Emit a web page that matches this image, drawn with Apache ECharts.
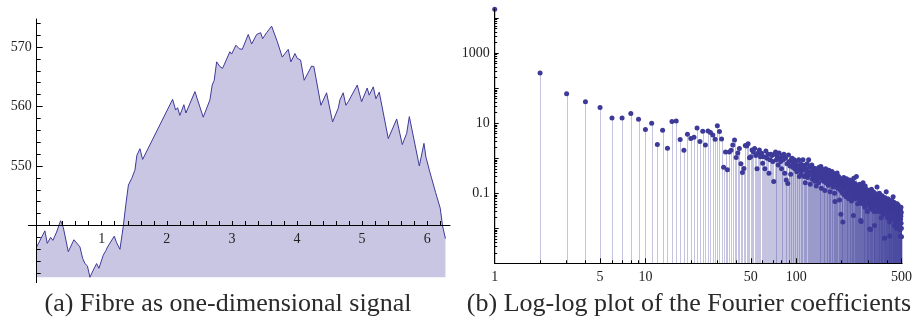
<!DOCTYPE html>
<html>
<head>
<meta charset="utf-8">
<script src="https://cdn.jsdelivr.net/npm/echarts@6/dist/echarts.min.js"></script>
<style>
html, body { margin: 0; padding: 0; background: #fff; }
#chart { width: 915px; height: 322px; }
</style>
</head>
<body>
<div id="chart"></div>
<script>
// (a) fibre signal, [t, value]
const signal = [
	[0, 536.4], [0.127, 539.1], [0.163, 537.0], [0.215, 538.0], [0.25, 537.5], [0.307, 538.9],
	[0.368, 540.8], [0.409, 539.7], [0.486, 535.6], [0.573, 537.6], [0.604, 537.2], [0.665, 536.4],
	[0.706, 534.5], [0.742, 533.6], [0.78, 533.2], [0.819, 531.3], [0.87, 532.5], [0.922, 533.6],
	[0.957, 532.8], [1.023, 535.0], [1.065, 535.8], [1.09, 536.4], [1.192, 538.2], [1.229, 537.1],
	[1.28, 536.0], [1.33, 539.8], [1.37, 543.5], [1.41, 546.8], [1.46, 547.9], [1.51, 549.3],
	[1.54, 551.8], [1.587, 552.9], [1.628, 551.1], [2.089, 561.2], [2.135, 559.4], [2.166, 559.8],
	[2.2, 558.5], [2.262, 560.3], [2.293, 558.9], [2.432, 562.5], [2.467, 561.3], [2.559, 558.2],
	[2.662, 561.1], [2.697, 563.6], [2.728, 564.4], [2.765, 567.5], [2.815, 566.7], [2.856, 566.4],
	[2.969, 569.2], [2.995, 568.8], [3.061, 570.3], [3.113, 569.7], [3.159, 569.6], [3.251, 572.1],
	[3.303, 570.5], [3.38, 572.1], [3.441, 572.4], [3.472, 571.4], [3.533, 572.4], [3.61, 573.5],
	[3.635, 573.4], [3.697, 570.9], [3.773, 568.3], [3.799, 568.1], [3.865, 569.6], [3.906, 567.5],
	[3.968, 568.9], [4.003, 568.1], [4.055, 567.8], [4.11, 564.4], [4.224, 566.8], [4.259, 566.7],
	[4.367, 560.2], [4.454, 562.3], [4.546, 557.4], [4.633, 559.7], [4.659, 561.1], [4.709, 562.3],
	[4.751, 560.2], [4.787, 560.8], [4.925, 563.6], [4.992, 560.8], [5.078, 563.1], [5.109, 561.9],
	[5.171, 563.3], [5.212, 561.3], [5.263, 562.4], [5.402, 554.6], [5.531, 557.9], [5.617, 553.6],
	[5.685, 555.5], [5.725, 558.3], [5.879, 550.0], [5.95, 553.8], [5.98, 551.5], [6.04, 549.0],
	[6.13, 545.5], [6.2, 542.9], [6.236, 539.9], [6.28, 537.8]
];

// (b) |Fourier coefficient| for n = 1..500
const coefs = [
	18000, 270, 69, 41, 28, 14, 14, 19, 13, 6.6,
	10, 2.45, 6.3, 1.93, 11.1, 11.6, 3.4, 1.7, 4.85, 3.66,
	3.98, 7.3, 2.98, 5.9, 2.4, 6.0, 5.4, 4.6, 3.5, 8.4,
	5.75, 3.55, 0.55, 1.5, 0.47, 1.5, 1.7, 2.4, 3.3, 1.04,
	1.4, 1.9, 0.7, 0.39, 0.51, 2.3, 2.25, 2.6, 1.03, 1.1,
	1.73, 1.5, 1.9, 1.2, 0.5, 1.4, 1.73, 1.1, 1.38, 0.72,
	1.1, 0.5, 1.6, 1.0, 1.3, 0.37, 0.9, 1.29, 1.2, 0.8,
	0.215, 1.29, 1.5, 0.9, 1.1, 0.64, 1.4, 1.0, 0.8, 0.5,
	1.2, 0.9, 1.29, 0.37, 1.0, 0.24, 0.7, 0.19, 1.24, 0.8,
	0.6, 0.35, 0.9, 1.0, 0.55, 0.72, 0.9, 0.5, 0.64, 0.8,
	0.41, 0.6, 0.55, 0.9, 0.3, 0.45, 0.7, 0.35, 0.5, 0.62,
	0.9, 0.45, 0.3, 0.62, 0.2, 0.5, 0.35, 0.7, 0.28, 0.42,
	0.9, 0.33, 0.55, 0.18, 0.4, 0.6, 0.64, 0.25, 0.47, 0.3,
	0.38, 0.52, 0.22, 0.45, 0.3, 0.16, 0.37, 0.5, 0.26, 0.41,
	0.2, 0.55, 0.33, 0.28, 0.45, 0.58, 0.14, 0.36, 0.25, 0.48,
	0.3, 0.22, 0.42, 0.35, 0.12, 0.27, 0.5, 0.2, 0.38, 0.33,
	0.25, 0.4, 0.17, 0.3, 0.45, 0.21, 0.28, 0.11, 0.35, 0.24,
	0.32, 0.19, 0.42, 0.26, 0.15, 0.3, 0.27, 0.22, 0.36, 0.1,
	0.058, 0.28, 0.2, 0.33, 0.17, 0.25, 0.38, 0.14, 0.22, 0.3,
	0.3, 0.18, 0.24, 0.064, 0.27, 0.2, 0.12, 0.025, 0.22, 0.16,
	0.19, 0.25, 0.1, 0.015, 0.21, 0.14, 0.28, 0.17, 0.09, 0.2,
	0.13, 0.23, 0.16, 0.08, 0.19, 0.26, 0.11, 0.15, 0.21, 0.12,
	0.17, 0.09, 0.07, 0.2, 0.14, 0.24, 0.1, 0.16, 0.12, 0.19,
	0.11, 0.15, 0.06, 0.18, 0.13, 0.22, 0.08, 0.14, 0.17, 0.023,
	0.27, 0.1, 0.12, 0.16, 0.07, 0.19, 0.11, 0.14, 0.09, 0.13,
	0.3, 0.1, 0.08, 0.15, 0.12, 0.05, 0.17, 0.09, 0.13, 0.11,
	0.07, 0.14, 0.1, 0.18, 0.06, 0.12, 0.09, 0.0167, 0.11, 0.0155,
	0.13, 0.08, 0.15, 0.1, 0.05, 0.12, 0.09, 0.2, 0.07, 0.11,
	0.09, 0.14, 0.06, 0.1, 0.12, 0.04, 0.16, 0.08, 0.11, 0.07,
	0.1, 0.13, 0.05, 0.09, 0.12, 0.08, 0.03, 0.11, 0.07, 0.1,
	0.06, 0.09, 0.12, 0.05, 0.08, 0.1, 0.0096, 0.07, 0.04, 0.09,
	0.11, 0.0093, 0.07, 0.085, 0.05, 0.13, 0.06, 0.08, 0.035, 0.1,
	0.07, 0.09, 0.05, 0.06, 0.11, 0.04, 0.08, 0.065, 0.03, 0.09,
	0.012, 0.07, 0.1, 0.055, 0.08, 0.045, 0.06, 0.09, 0.05, 0.07,
	0.04, 0.08, 0.06, 0.15, 0.05, 0.07, 0.03, 0.065, 0.09, 0.055,
	0.06, 0.045, 0.08, 0.035, 0.07, 0.05, 0.1, 0.04, 0.06, 0.075,
	0.05, 0.03, 0.065, 0.045, 0.08, 0.055, 0.02, 0.06, 0.04, 0.07,
	0.05, 0.085, 0.035, 0.06, 0.045, 0.07, 0.025, 0.055, 0.04, 0.065,
	0.05, 0.03, 0.06, 0.045, 0.075, 0.0052, 0.04, 0.055, 0.035, 0.06,
	0.045, 0.07, 0.03, 0.05, 0.04, 0.11, 0.025, 0.055, 0.045, 0.035,
	0.06, 0.04, 0.05, 0.02, 0.045, 0.07, 0.035, 0.05, 0.03, 0.055,
	0.04, 0.065, 0.025, 0.045, 0.035, 0.05, 0.015, 0.006, 0.04, 0.03,
	0.055, 0.035, 0.045, 0.02, 0.06, 0.03, 0.04, 0.05, 0.025, 0.038,
	0.045, 0.028, 0.06, 0.035, 0.04, 0.018, 0.05, 0.03, 0.042, 0.08,
	0.035, 0.025, 0.045, 0.03, 0.055, 0.02, 0.038, 0.03, 0.012, 0.04,
	0.03, 0.045, 0.022, 0.035, 0.028, 0.05, 0.015, 0.033, 0.04, 0.025,
	0.036, 0.02, 0.045, 0.03, 0.01, 0.038, 0.026, 0.05, 0.032, 0.018,
	0.03, 0.042, 0.024, 0.035, 0.012, 0.028, 0.045, 0.02, 0.033, 0.026,
	0.038, 0.022, 0.03, 0.015, 0.04, 0.027, 0.02, 0.034, 0.009, 0.006,
	0.025, 0.035, 0.018, 0.03, 0.022, 0.04, 0.014, 0.028, 0.01, 0.0057
];

// tick labels
const xLabelsA = [1, 2, 3, 4, 5, 6];
const yLabelsA = [550, 560, 570];
const xLabelsB = [1, 5, 10, 50, 100, 500];
const yLabelsB = [0.1, 10, 1000];
const captions = ['(a) Fibre as one-dimensional signal', '(b) Log-log plot of the Fourier coefficients'];

// tick marks
const xTicksA = [];
for (let i = 1; i <= 31; i++) xTicksA.push(+(i * 0.2).toFixed(1));
const yMinorA = [];
for (let v = 532; v <= 574; v += 2) yMinorA.push(v);
const xMinorB = [];
const yMinorB = [];
for (let k = -3; k <= 4; k++) {
	for (let m = 1; m <= 9; m++) {
		const v = +(m * Math.pow(10, k)).toPrecision(3);
		if (k >= 0 && k <= 2) xMinorB.push(v);
		yMinorB.push(v);
	}
}
const yMajorB = [0.001, 0.01, 0.1, 1, 10, 100, 1000, 10000];

const chart = echarts.init(document.getElementById('chart'));

const ink = '#000';
const lblFont = {
	fontFamily: 'Liberation Serif',
	fontSize: 14,
	color: '#222'
};
const purple = '#3d3a99';
const yMinB = 0.001;

const option = {
	animation: false,
	grid: [{
			left: 28.3,
			top: 19,
			width: 421.7,
			height: 263.6
		},
		{
			left: 494.7,
			top: 9,
			width: 409.6,
			height: 254.3
		}
	],
	xAxis: [{
			// (a) x axis, sitting at y = 540, drawn over the fill
			type: 'value',
			gridIndex: 0,
			position: 'bottom',
			z: 10,
			min: -0.128,
			max: 6.35,
			offset: -57.1,
			splitLine: { show: false },
			axisLine: { lineStyle: { color: ink, width: 1 } },
			axisTick: { inside: true, length: 4.5, customValues: xTicksA, lineStyle: { color: ink } },
			axisLabel: Object.assign({ customValues: xLabelsA, margin: 7 }, lblFont)
		},
		{
			// (b) x axis, major ticks + labels
			type: 'log',
			gridIndex: 1,
			position: 'bottom',
			z: 10,
			min: 1,
			max: 505,
			splitLine: { show: false },
			axisLine: { lineStyle: { color: ink, width: 1 } },
			axisTick: { inside: true, length: 5, customValues: xLabelsB, lineStyle: { color: ink } },
			axisLabel: Object.assign({ customValues: xLabelsB, margin: 7, formatter: v => String(v) }, lblFont)
		},
		{
			// (b) x axis, minor ticks
			type: 'log',
			gridIndex: 1,
			position: 'bottom',
			z: 10,
			min: 1,
			max: 505,
			splitLine: { show: false },
			axisLine: { show: false },
			axisTick: { inside: true, length: 3, customValues: xMinorB, lineStyle: { color: ink } },
			axisLabel: { show: false }
		}
	],
	yAxis: [{
			// (a) y axis at t = 0
			type: 'value',
			gridIndex: 0,
			position: 'left',
			z: 10,
			min: 530.4,
			max: 574.7,
			offset: -8.4,
			splitLine: { show: false },
			axisLine: { lineStyle: { color: ink, width: 1 } },
			axisTick: { inside: true, length: 6, customValues: yLabelsA, lineStyle: { color: ink } },
			axisLabel: Object.assign({ customValues: yLabelsA, margin: 5 }, lblFont)
		},
		{
			type: 'value',
			gridIndex: 0,
			position: 'left',
			z: 10,
			min: 530.4,
			max: 574.7,
			offset: -8.4,
			splitLine: { show: false },
			axisLine: { show: false },
			axisTick: { inside: true, length: 4, customValues: yMinorA, lineStyle: { color: ink } },
			axisLabel: { show: false }
		},
		{
			// (b) log y axis
			type: 'log',
			gridIndex: 1,
			position: 'left',
			z: 10,
			min: yMinB,
			max: 18200,
			splitLine: { show: false },
			axisLine: { lineStyle: { color: ink, width: 1 } },
			axisTick: { inside: true, length: 4, customValues: yMajorB, lineStyle: { color: ink } },
			axisLabel: Object.assign({ customValues: yLabelsB, margin: 5, formatter: v => String(v) }, lblFont)
		},
		{
			type: 'log',
			gridIndex: 1,
			position: 'left',
			z: 10,
			min: yMinB,
			max: 18200,
			splitLine: { show: false },
			axisLine: { show: false },
			axisTick: { inside: true, length: 2.5, customValues: yMinorB, lineStyle: { color: ink } },
			axisLabel: { show: false }
		}
	],
	series: [{
			type: 'line',
			xAxisIndex: 0,
			yAxisIndex: 0,
			data: signal,
			showSymbol: false,
			lineStyle: { color: purple, width: 1 },
			areaStyle: { color: '#c8c6e2', opacity: 1, origin: 531.3 },
			silent: true
		},
		{
			// stems
			type: 'custom',
			xAxisIndex: 1,
			yAxisIndex: 2,
			data: coefs.map((v, i) => [i + 1, v]),
			encode: { x: 0, y: 1 },
			silent: true,
			renderItem: function(params, api) {
				const top = api.coord([api.value(0), api.value(1)]);
				const base = api.coord([api.value(0), yMinB]);
				const x = Math.round(top[0]) + 0.5;
				return {
					type: 'line',
					shape: { x1: x, y1: base[1], x2: x, y2: top[1] },
					style: { stroke: 'rgba(61,58,153,0.3)', lineWidth: 1 }
				};
			}
		},
		{
			type: 'scatter',
			xAxisIndex: 1,
			yAxisIndex: 2,
			data: coefs.map((v, i) => [i + 1, v]),
			symbolSize: 5,
			itemStyle: { color: purple, opacity: 1 },
			silent: true,
			z: 5
		}
	],
	graphic: [{
			type: 'text',
			x: 228,
			y: 304,
			style: {
				text: captions[0],
				font: '26px "Liberation Serif"',
				fill: '#2a2a2a',
				align: 'center',
				verticalAlign: 'middle'
			}
		},
		{
			type: 'text',
			x: 689,
			y: 304,
			style: {
				text: captions[1],
				font: '26px "Liberation Serif"',
				fill: '#2a2a2a',
				align: 'center',
				verticalAlign: 'middle'
			}
		}
	]
};

chart.setOption(option);
</script>
</body>
</html>
